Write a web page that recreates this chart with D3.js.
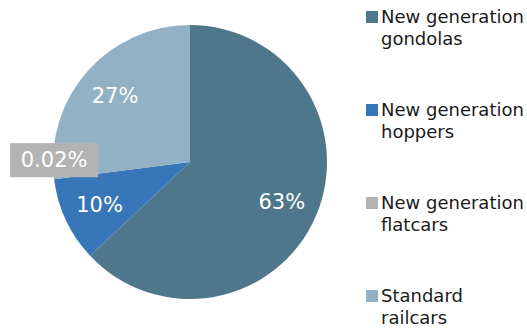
<!DOCTYPE html>
<html><head><meta charset="utf-8">
<script src="https://cdn.jsdelivr.net/npm/d3@7"></script>
<style>body{margin:0;background:#fff}svg{display:block}text{font-family:"DejaVu Sans",Verdana,sans-serif}</style>
</head><body>
<svg id="c" width="527" height="331"></svg>
<script>
const categories = [["New generation","gondolas"],["New generation","hoppers"],["New generation","flatcars"],["Standard","railcars"]];
const values = [63, 10, 0.02, 27];
const labels = ["63%","10%","0.02%","27%"];
const colors = ["#4F778B","#3777B9","#B3B3B3","#93B1C4"];

const svg = d3.select("#c");
const cx = 190, cy = 162, R = 137;
const g = svg.append("g").attr("transform", `translate(${cx},${cy})`);
const pie = d3.pie().sort(null).value(d => d);
const arcs = pie(values);
const arc = d3.arc().innerRadius(0).outerRadius(R);
const labelArc = d3.arc().innerRadius(R*0.73).outerRadius(R*0.73);

g.selectAll("path").data(arcs).enter().append("path")
  .attr("d", arc).attr("fill", (d,i) => colors[i]);

arcs.forEach((d,i) => {
  if (i === 2) {
    const a = (d.startAngle + d.endAngle)/2;
    const x = Math.sin(a)*R, y = -Math.cos(a)*R - 19;
    const t = g.append("text").attr("x", x).attr("y", y).attr("text-anchor","middle")
      .attr("dominant-baseline","central").attr("font-size", 21).attr("fill","#fff").text(labels[i]);
    const bb = t.node().getBBox();
    g.insert("rect", "text").attr("x", x - 44).attr("y", y - 17).attr("width", 88).attr("height", 34).attr("fill", colors[i]);
  } else {
    const [x, y] = labelArc.centroid(d);
    g.append("text").attr("x", x).attr("y", y).attr("text-anchor","middle")
      .attr("dominant-baseline","central").attr("font-size", 21).attr("fill","#fff").text(labels[i]);
  }
});

const leg = svg.append("g");
const y0 = 23, step = 93;
categories.forEach((c,i) => {
  const by = y0 + i*step;
  leg.append("rect").attr("x", 366).attr("y", by - 12).attr("width", 12).attr("height", 12).attr("fill", colors[i]);
  const t = leg.append("text").attr("x", 381).attr("y", by).attr("font-size", 18).attr("fill", "#1a1a1a");
  c.forEach((line, j) => t.append("tspan").attr("x", 381).attr("dy", j === 0 ? 0 : 22).text(line));
});
</script>
</body></html>
